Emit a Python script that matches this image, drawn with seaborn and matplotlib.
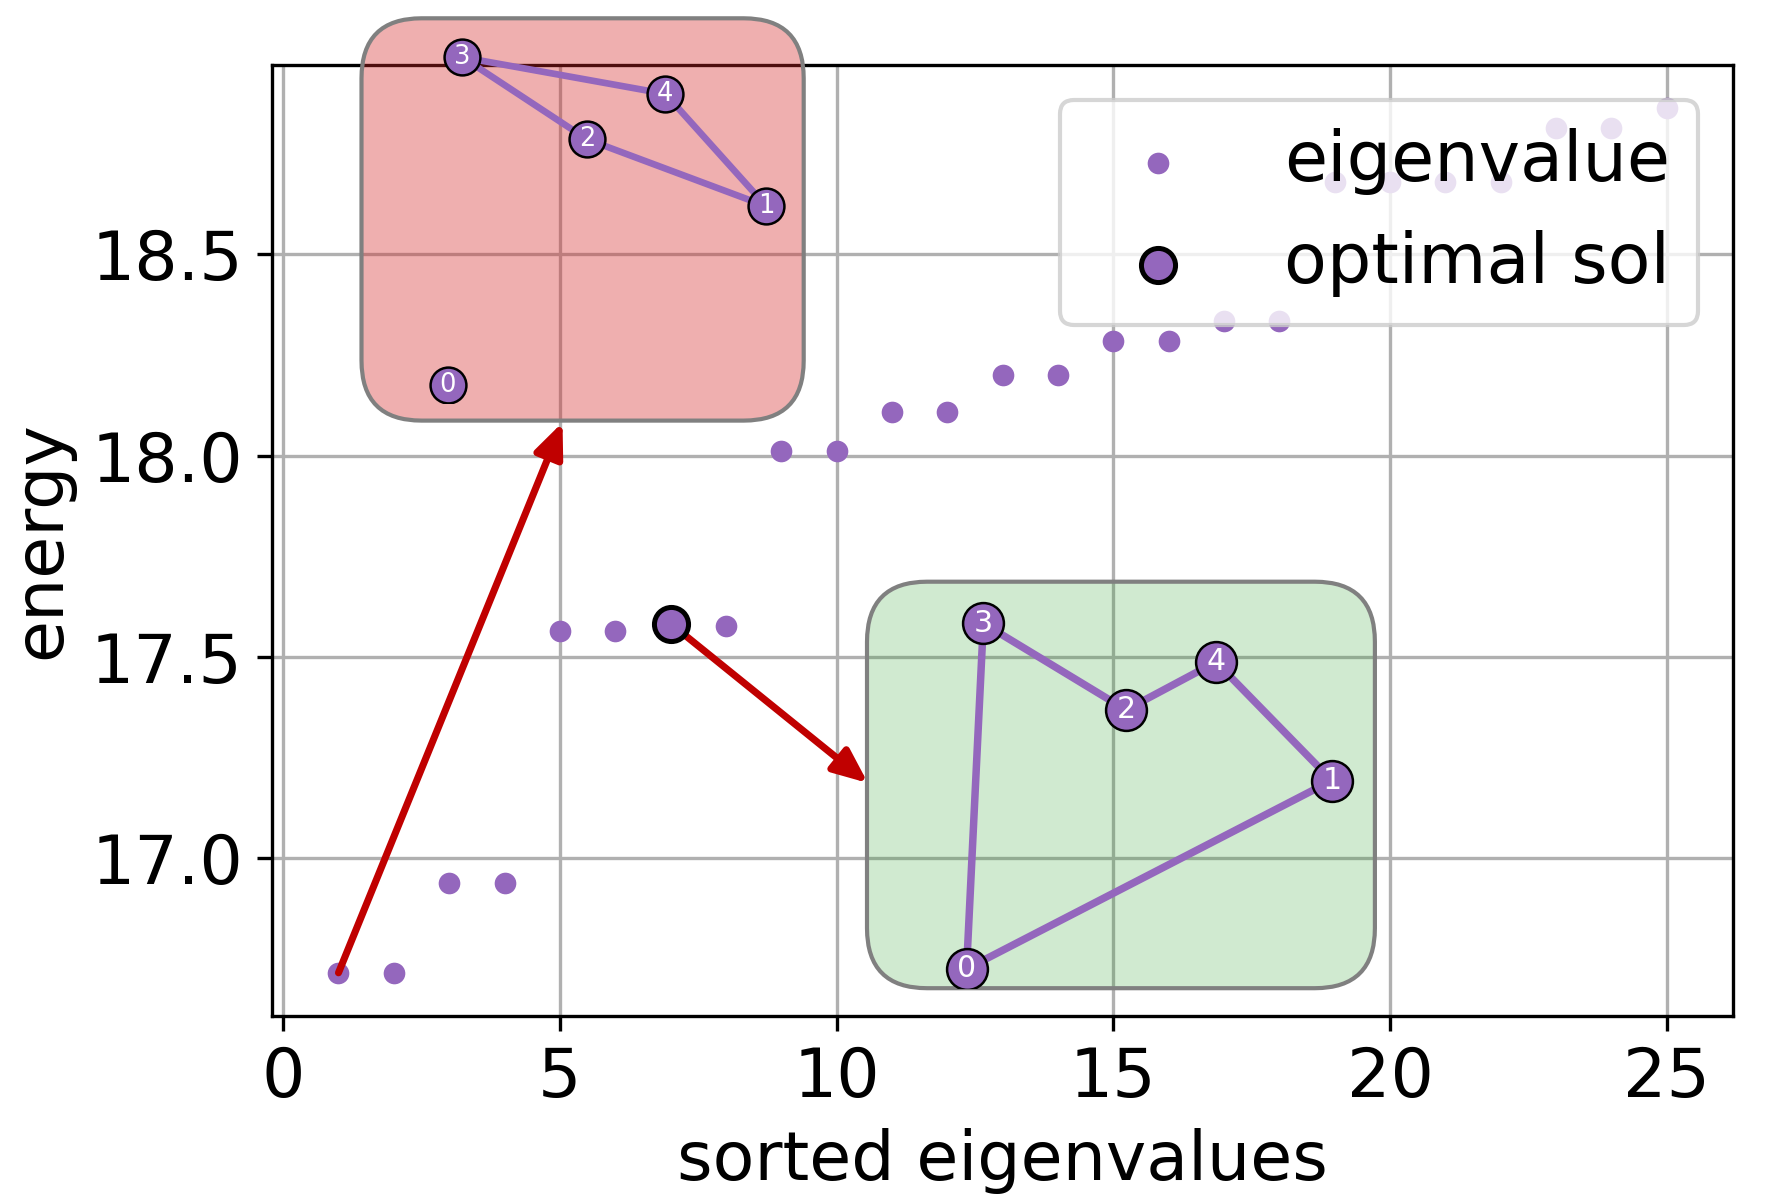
import numpy as np
import matplotlib
matplotlib.use("Agg")
import matplotlib.pyplot as plt
import seaborn as sns
from matplotlib.patches import FancyBboxPatch

# sorted eigenvalues (energy)
ev_index = list(range(1, 26))
ev_energy = [16.716, 16.716, 16.940, 16.940, 17.565, 17.565, 17.583, 17.578,
             18.012, 18.012, 18.108, 18.108, 18.199, 18.199, 18.284, 18.284,
             18.334, 18.334, 18.680, 18.680, 18.680, 18.680, 18.812, 18.812,
             18.862]
opt_index = 7  # optimal solution

# city layout shared by both insets (inset axes units 0..1)
node_labels = ['0', '1', '2', '3', '4']
node_x = [0.196, 0.915, 0.510, 0.229, 0.687]
node_y = [0.047, 0.511, 0.685, 0.898, 0.803]
# tours shown in the insets
tour_bad = [3, 4, 1, 2, 3]          # lowest eigenvalue, node 0 left out
tour_opt = [0, 3, 2, 4, 1, 0]       # optimal tour

purple = '#9467bd'
arrow_red = '#c00000'

plt.rcParams['font.size'] = 16.4

fig = plt.figure(figsize=(1769 / 300, 1200 / 300), dpi=300)
ax = fig.add_axes([0.1538, 0.1533, 0.8259, 0.7925])
ax.set_axisbelow(True)
ax.grid(True)

sns.scatterplot(x=ev_index, y=ev_energy, ax=ax, color=purple, s=27,
                linewidth=0, label='eigenvalue', zorder=3)
sns.scatterplot(x=[opt_index], y=[ev_energy[opt_index - 1]], ax=ax,
                color=purple, s=67, edgecolor='black', linewidth=1.2,
                label='optimal sol', zorder=5)

ax.set_xlabel('sorted eigenvalues')
ax.set_ylabel('energy')
ax.set_xticks([0, 5, 10, 15, 20, 25])
ax.set_yticks([17.0, 17.5, 18.0, 18.5])
ax.legend(loc='upper right', framealpha=0.8, fontsize=16.8)

# rounded boxes (inches on the figure)
red_box = (1.205, 2.598, 1.474, 1.341)
green_box = (2.890, 0.706, 1.693, 1.355)
for (bx, by, bw, bh), fc in [(red_box, (214/255, 39/255, 40/255, 0.37)),
                             (green_box, (44/255, 160/255, 44/255, 0.22))]:
    p = FancyBboxPatch((bx, by), bw, bh,
                       boxstyle='round,pad=0,rounding_size=0.2',
                       transform=fig.dpi_scale_trans, facecolor=fc,
                       edgecolor='0.5', linewidth=1.0, zorder=1)
    fig.patches.append(p)
    p.set_figure(fig)

# arrows from eigenvalues to the boxes
arrow_kw = dict(arrowstyle='-|>,head_length=0.42,head_width=0.18',
                color=arrow_red, lw=1.7, shrinkA=0, shrinkB=0,
                mutation_scale=16.4)
ax.annotate('', xy=(1.875, 2.592), xycoords=fig.dpi_scale_trans,
            xytext=(ev_index[0], ev_energy[0]), textcoords='data',
            arrowprops=arrow_kw, zorder=4)
ax.annotate('', xy=(2.893, 1.39), xycoords=fig.dpi_scale_trans,
            xytext=(opt_index, ev_energy[opt_index - 1]), textcoords='data',
            arrowprops=arrow_kw, zorder=4)


def draw_tour(rect, tour, node_size, font_size, lw):
    ia = fig.add_axes(rect, zorder=2)
    ia.set_xlim(0, 1)
    ia.set_ylim(0, 1)
    ia.axis('off')
    ia.plot([node_x[i] for i in tour], [node_y[i] for i in tour],
            color=purple, lw=lw, solid_capstyle='round', zorder=1)
    sns.scatterplot(x=node_x, y=node_y, ax=ia, color=purple, s=node_size ** 2,
                    edgecolor='black', linewidth=0.6, zorder=2, legend=False)
    for lab, nx, ny in zip(node_labels, node_x, node_y):
        ia.text(nx, ny, lab, color='white', fontsize=font_size,
                ha='center', va='center', zorder=3)


draw_tour([361 / 1769, 1 - 403 / 1200, 443 / 1769, 385 / 1200], tour_bad, 8.6, 6.2, 1.6)
draw_tour([867 / 1769, 1 - 988 / 1200, 508 / 1769, 406 / 1200], tour_opt, 9.8, 7.2, 1.8)

fig.savefig('out.png', dpi=300)
